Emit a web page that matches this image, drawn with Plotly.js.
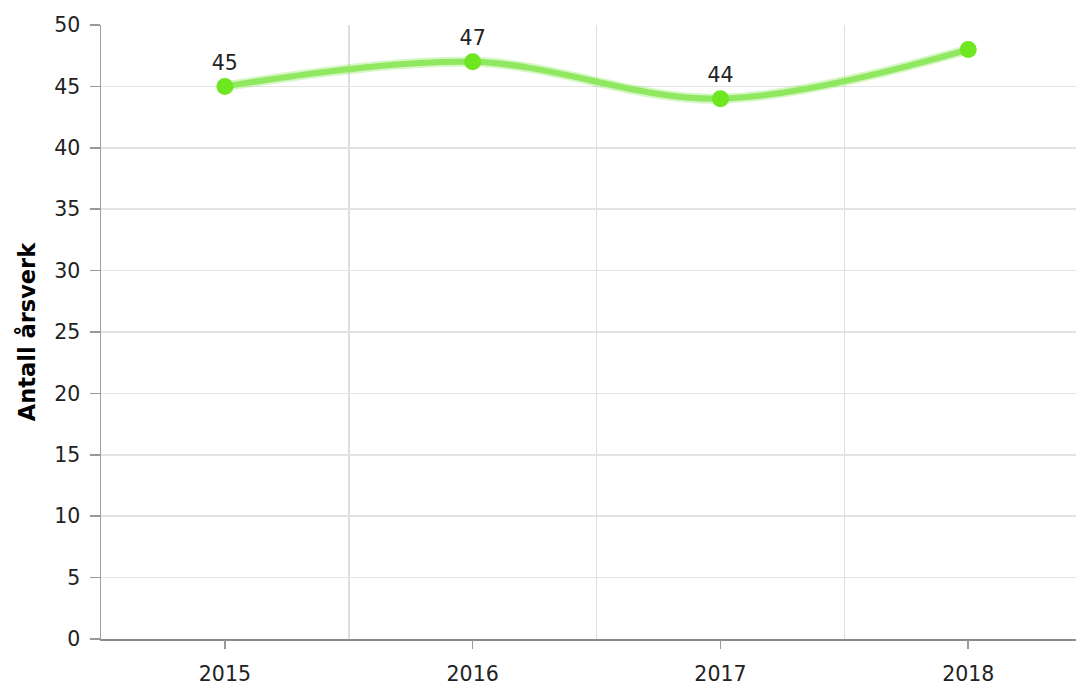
<!DOCTYPE html>
<html>
<head>
<meta charset="utf-8">
<script src="https://cdn.plot.ly/plotly-3.0.1.min.js"></script>
<style>html,body{margin:0;padding:0;background:#fff;}#chart{width:1078px;height:686px;}</style>
</head>
<body>
<div id="chart"></div>
<script>
const years = ['2015', '2016', '2017', '2018'];
const arsverk = [45, 47, 44, 48];
const showLabel = [true, true, true, false];
const yTicks = [0, 5, 10, 15, 20, 25, 30, 35, 40, 45, 50];
const yTitle = 'Antall årsverk';

const labels = arsverk.map((v, i) => showLabel[i] ? String(v) : '');

const FONT = 'DejaVu Sans, Verdana, sans-serif';
const FS = 20.5;

const traces = [
  {
    x: years, y: arsverk, type: 'scatter', mode: 'lines',
    line: {shape: 'spline', smoothing: 1, color: 'rgba(140,230,90,0.35)', width: 10},
    hoverinfo: 'skip', showlegend: false
  },
  {
    x: years, y: arsverk, type: 'scatter', mode: 'lines+markers+text',
    line: {shape: 'spline', smoothing: 1, color: '#8fe860', width: 6},
    marker: {color: '#6ee620', size: 17},
    text: labels, textposition: 'top center',
    textfont: {family: FONT, size: FS, color: '#222'},
    cliponaxis: false, showlegend: false
  },
  {
    x: years, y: arsverk, xaxis: 'x2', type: 'scatter', mode: 'none',
    hoverinfo: 'skip', showlegend: false
  }
];

const xr = [-0.5, 3.435];
const layout = {
  width: 1078, height: 686,
  margin: {l: 101, r: 2, t: 25, b: 47},
  paper_bgcolor: '#fff', plot_bgcolor: '#fff',
  font: {family: FONT, size: FS, color: '#222'},
  showlegend: false,
  xaxis: {
    type: 'category', range: xr, tickson: 'boundaries',
    showgrid: true, gridcolor: '#dedede', gridwidth: 1.5,
    ticks: '', showticklabels: false,
    showline: true, linecolor: '#8a8a8a', linewidth: 1.5,
    zeroline: false, fixedrange: true
  },
  xaxis2: {
    type: 'category', range: xr, overlaying: 'x', anchor: 'y',
    showgrid: false, ticks: 'outside', ticklen: 9, tickwidth: 1.5, tickcolor: '#999',
    showticklabels: true, tickfont: {family: FONT, size: FS, color: '#222'},
    ticklabelstandoff: 7,
    showline: false, zeroline: false, side: 'bottom'
  },
  yaxis: {
    range: [0, 50], tickvals: yTicks, ticktext: yTicks.map(String),
    showgrid: true, gridcolor: '#e3e3e3', gridwidth: 1.5,
    ticks: 'outside', ticklen: 10, tickwidth: 1.5, tickcolor: '#999',
    ticklabelstandoff: 5,
    tickfont: {family: FONT, size: FS, color: '#222'},
    showline: true, linecolor: '#a0a0a0', linewidth: 1.5,
    zeroline: false,
    title: {text: yTitle, font: {family: FONT, size: 22.5, color: '#000', weight: 'bold'}, standoff: 12}
  }
};

Plotly.newPlot('chart', traces, layout, {displayModeBar: false, staticPlot: true});
</script>
</body>
</html>
